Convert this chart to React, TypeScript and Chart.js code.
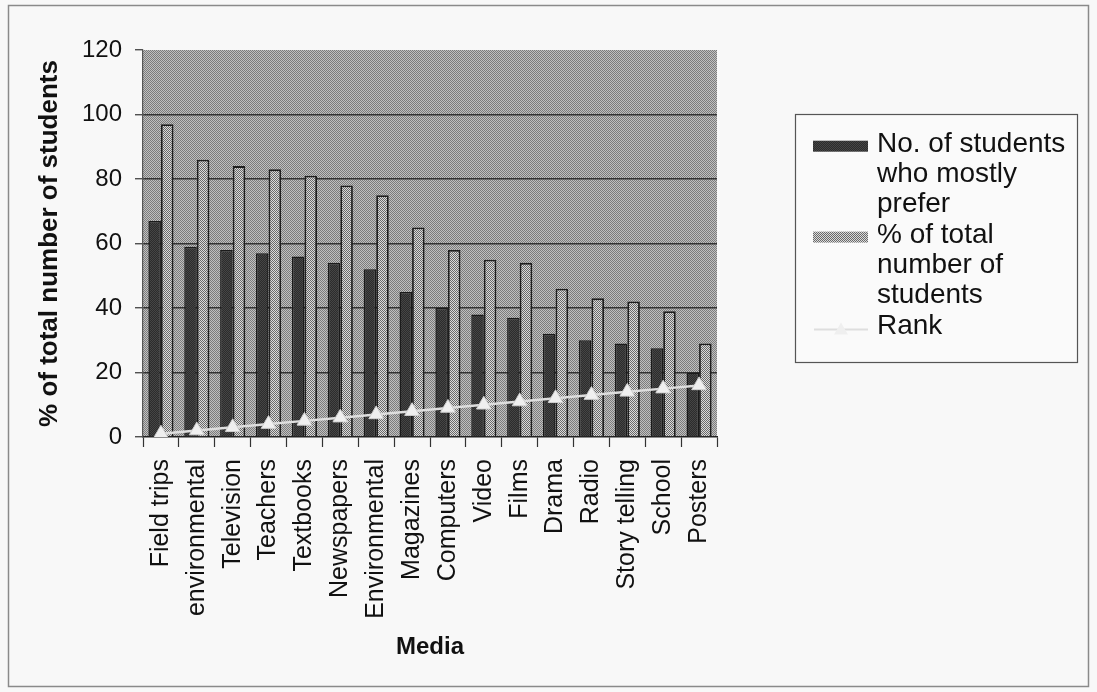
import React, { useEffect, useRef } from "react";
import { Chart, registerables } from "chart.js";

Chart.register(...registerables);

// Media categories, in ranked order
const categories = [
  "Field trips",
  "environmental",
  "Television",
  "Teachers",
  "Textbooks",
  "Newspapers",
  "Environmental",
  "Magazines",
  "Computers",
  "Video",
  "Films",
  "Drama",
  "Radio",
  "Story telling",
  "School",
  "Posters",
];

// No. of students who mostly prefer each medium
const mostlyPrefer = [67, 59, 58, 57, 56, 54, 52, 45, 40, 38, 37, 32, 30, 29, 27.5, 20];

// % of total number of students
const percentOfTotal = [97, 86, 84, 83, 81, 78, 75, 65, 58, 55, 54, 46, 43, 42, 39, 29];

// Rank of each medium
const rank = [1, 2, 3, 4, 5, 6, 7, 8, 9, 10, 11, 12, 13, 14, 15, 16];

// Value axis
const yMin = 0;
const yMax = 120;
const yStep = 20;

const legendLines = [
  ["No. of students", "who mostly", "prefer"],
  ["% of total", "number of", "students"],
  ["Rank"],
];

const FONT = '"Liberation Sans", Arial, Helvetica, sans-serif';
const INK = "#111111";

function checker(a: string, b: string, cell: number): CanvasPattern | string {
  const c = document.createElement("canvas");
  c.width = cell * 2;
  c.height = cell * 2;
  const g = c.getContext("2d");
  if (!g) return a;
  g.fillStyle = a;
  g.fillRect(0, 0, cell * 2, cell * 2);
  g.fillStyle = b;
  g.fillRect(0, 0, cell, cell);
  g.fillRect(cell, cell, cell, cell);
  const p = g.createPattern(c, "repeat");
  return p || a;
}

export default function App() {
  const canvasRef = useRef<HTMLCanvasElement | null>(null);

  useEffect(() => {
    const canvas = canvasRef.current;
    if (!canvas) return;

    const plotFill = checker("#c0c0c0", "#7c7c7c", 1);
    const darkFill = checker("#2c2c2c", "#454545", 1);
    const lightFill = checker("#dadada", "#6a6a6a", 1);

    const backdrop = {
      id: "backdrop",
      beforeDraw(chart: any) {
        const { ctx, width, height, chartArea } = chart;
        ctx.save();
        ctx.fillStyle = "#f8f8f8";
        ctx.fillRect(0, 0, width, height);
        ctx.strokeStyle = "#8a8a8a";
        ctx.lineWidth = 1.5;
        ctx.strokeRect(8.5, 5.5, 1080, 681);
        ctx.fillStyle = plotFill;
        ctx.fillRect(
          chartArea.left,
          chartArea.top,
          chartArea.right - chartArea.left,
          chartArea.bottom - chartArea.top
        );
        ctx.restore();
      },
    };

    const boxLegend = {
      id: "boxLegend",
      afterDraw(chart: any) {
        const { ctx } = chart;
        const ds = chart.data.datasets;
        ctx.save();
        ctx.fillStyle = "#fafafa";
        ctx.fillRect(795, 114, 282, 248);
        ctx.strokeStyle = "#555555";
        ctx.lineWidth = 1.2;
        ctx.strokeRect(795.5, 114.5, 282, 248);

        ctx.font = "28px " + FONT;
        ctx.textAlign = "left";
        ctx.textBaseline = "alphabetic";
        const step = 30.3;
        let base = 151.7;
        const order = [1, 2, 0];
        legendLines.forEach((lines, i) => {
          const d = ds[order[i]];
          if (i < 2) {
            ctx.fillStyle = d.backgroundColor;
            ctx.fillRect(813, base - 11, 55, 11);
          } else {
            ctx.strokeStyle = d.borderColor;
            ctx.lineWidth = 2;
            ctx.beginPath();
            ctx.moveTo(814, base - 4);
            ctx.lineTo(868, base - 4);
            ctx.stroke();
            ctx.fillStyle = d.pointBackgroundColor;
            ctx.beginPath();
            ctx.moveTo(841, base - 11);
            ctx.lineTo(848, base + 1);
            ctx.lineTo(834, base + 1);
            ctx.closePath();
            ctx.fill();
          }
          ctx.fillStyle = INK;
          lines.forEach((t) => {
            ctx.fillText(t, 877, base);
            base += step;
          });
        });
        ctx.restore();
      },
    };

    const yTicks: number[] = [];
    for (let v = yMin; v <= yMax; v += yStep) yTicks.push(v);

    const chart = new Chart(canvas, {
      type: "bar",
      data: {
        labels: categories,
        datasets: [
          {
            type: "line",
            label: "Rank",
            data: rank,
            order: 0,
            borderColor: "#dedede",
            borderWidth: 2.5,
            pointStyle: "triangle",
            pointRadius: 8.5,
            pointBackgroundColor: "#efefef",
            pointBorderColor: "#d0d0d0",
            pointBorderWidth: 1,
            tension: 0,
          } as any,
          {
            label: "No. of students who mostly prefer",
            data: mostlyPrefer,
            order: 1,
            backgroundColor: darkFill as any,
            borderColor: "#1a1a1a",
            borderWidth: 1.5,
            categoryPercentage: 0.7,
            barPercentage: 1.0,
          },
          {
            label: "% of total number of students",
            data: percentOfTotal,
            order: 1,
            backgroundColor: lightFill as any,
            borderColor: "#1e1e1e",
            borderWidth: 1.8,
            categoryPercentage: 0.7,
            barPercentage: 1.0,
          },
        ],
      },
      options: {
        animation: false,
        responsive: false,
        devicePixelRatio: 1,
        events: [],
        layout: { padding: { left: 0, top: 50, right: 380, bottom: 0 } },
        plugins: {
          legend: { display: false },
          tooltip: { enabled: false },
          title: { display: false },
        },
        scales: {
          x: {
            afterFit(scale: any) {
              scale.height = 255;
            },
            grid: {
              display: true,
              drawOnChartArea: false,
              drawTicks: true,
              tickLength: 10,
              tickColor: "#333333",
              tickWidth: 1.2,
              offset: true,
            },
            border: { display: true, color: "#222222", width: 1.5 },
            ticks: {
              minRotation: 90,
              maxRotation: 90,
              autoSkip: false,
              padding: 12,
              color: INK,
              font: { family: FONT, size: 25 },
            },
            title: {
              display: true,
              text: "Media",
              color: INK,
              font: { family: FONT, size: 24, weight: "bold" },
              padding: { top: 0, bottom: 30 },
            },
          },
          y: {
            min: yMin,
            max: yMax,
            afterFit(scale: any) {
              scale.width = 143;
            },
            afterBuildTicks(scale: any) {
              scale.ticks = yTicks.map((v) => ({ value: v }));
            },
            grid: {
              color: (c: any) =>
                c.tick && (c.tick.value === yMin || c.tick.value === yMax)
                  ? "rgba(0,0,0,0)"
                  : "#333333",
              lineWidth: 1.5,
              tickLength: 8,
              tickColor: "#333333",
              tickWidth: 1.2,
            },
            border: { display: true, color: "#555555", width: 1.2 },
            ticks: {
              padding: 13,
              color: INK,
              font: { family: FONT, size: 24 },
            },
            title: {
              display: true,
              text: "% of total number of students",
              color: INK,
              font: { family: FONT, size: 26, weight: "bold" },
              padding: { top: 34, bottom: 0 },
            },
          },
        },
      },
      plugins: [backdrop, boxLegend],
    });

    return () => chart.destroy();
  }, []);

  return (
    <div style={{ position: "fixed", left: 0, top: 0, width: 1097, height: 692 }}>
      <canvas ref={canvasRef} width={1097} height={692} style={{ display: "block" }} />
    </div>
  );
}
